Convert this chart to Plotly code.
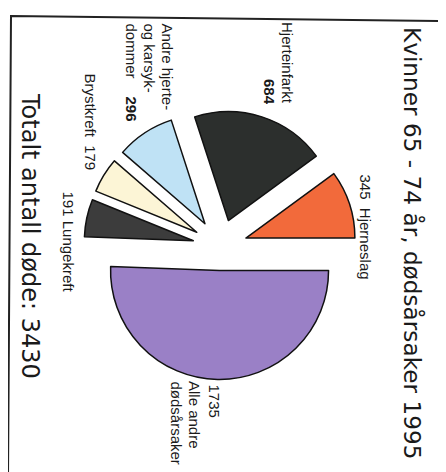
import plotly.graph_objects as go

# ---- data ----
causes = ["Hjerneslag", "Hjerteinfarkt", "Andre hjerte- og karsykdommer",
          "Brystkreft", "Lungekreft", "Alle andre dødsårsaker"]
deaths = [345, 684, 296, 179, 191, 1735]
slice_colors = ["#f26a3b", "#2c2f2d", "#bfe2f5", "#fcf5d6", "#3c3c3c", "#9a80c6"]
pulls = [0.25, 0.25, 0.25, 0.25, 0.25, 0.22]

title_text = "Kvinner 65 - 74 år, dødsårsaker 1995"
total_text = "Totalt antall døde: " + str(sum(deaths))

W, H = 446, 472


def px(x):
    return x / W


def py(y):
    return 1 - y / H


cx, cy, box = 212, 238.5, 272.5
start_rot = 90 - 360 * deaths[0] / sum(deaths)

fig = go.Figure(go.Pie(
    labels=causes,
    values=deaths,
    sort=False,
    direction="counterclockwise",
    rotation=start_rot,
    pull=pulls,
    marker=dict(colors=slice_colors, line=dict(color="#111111", width=1.5)),
    textinfo="none",
    hoverinfo="label+value",
    showlegend=False,
    domain=dict(x=[px(cx - box / 2), px(cx + box / 2)],
                y=[py(cy + box / 2), py(cy - box / 2)]),
))

LBL = dict(family="Liberation Sans, Arial, sans-serif", size=15, color="#1a1a1a")
BIG = dict(family="DejaVu Sans, sans-serif", size=23.2, color="#1a1a1a")
NB = "\u00a0"

notes = [
    (title_text, 405, 235, "middle", BIG),
    (total_text, 22, 228, "middle", dict(BIG, size=24)),
    ("Hjerteinfarkt", 280, 97, "bottom", LBL),
    ("<b>684</b>", 262, 98, "bottom", LBL),
    ("345" + NB * 2 + "Hjerneslag", 357, 165, "top", LBL),
    ("1735", 206, 375, "top", LBL),
    ("Alle andre", 187, 372, "top", LBL),
    ("dødsårsaker", 168, 372, "top", LBL),
    ("191 Lungekreft", 60, 182, "top", LBL),
    ("Brystkreft" + NB * 2 + "179", 82, 64, "top", LBL),
    ("Andre hjerte-", 159, 14, "top", LBL),
    ("og karsyk-", 141, 14, "top", LBL),
    ("dommer", 123, 14, "top", LBL),
    ("<b>296</b>", 123, 87, "top", LBL),
]

annotations = []
for text, x, y, ya, f in notes:
    annotations.append(dict(
        text=text, x=px(x), y=py(y), xref="paper", yref="paper",
        xanchor="center", yanchor=ya, textangle=90, showarrow=False,
        font=f, borderpad=0,
    ))

shapes = [dict(
    type="path", xref="paper", yref="paper",
    path=f"M {px(3)} {py(8)} L {px(436)} {py(13)} L {px(431)} {py(469)} L {px(0)} {py(469)} Z",
    line=dict(color="#222222", width=2),
)]

fig.update_layout(
    width=W, height=H,
    margin=dict(l=0, r=0, t=0, b=0),
    paper_bgcolor="white",
    plot_bgcolor="white",
    annotations=annotations,
    shapes=shapes,
)

fig.write_html("out.html")
